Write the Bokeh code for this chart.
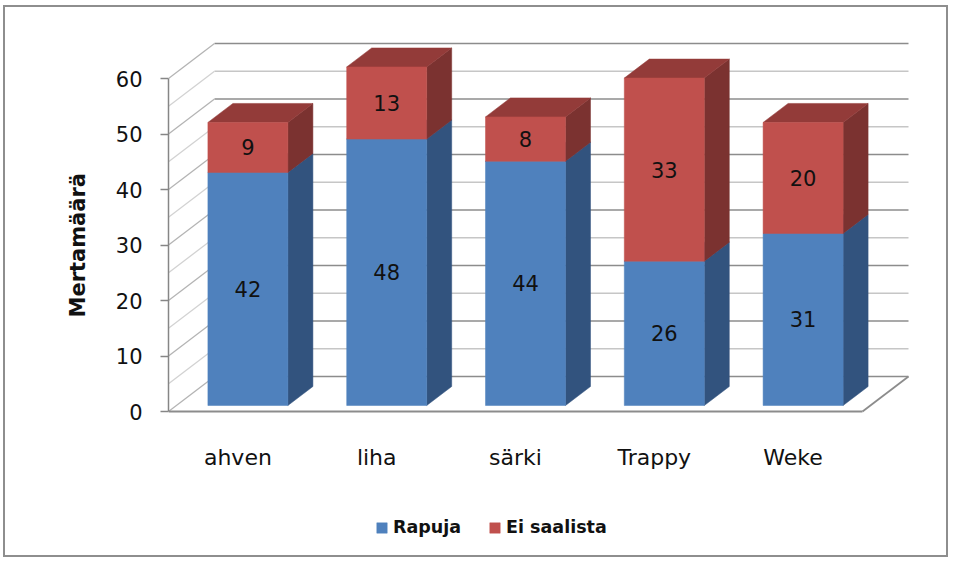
from bokeh.plotting import figure
from bokeh.models import FixedTicker, Range1d, Legend, LegendItem, Title
from bokeh.core.properties import value
from bokeh.embed import file_html
from bokeh.resources import INLINE

# ---------------- data ----------------
categories = ["ahven", "liha", "särki", "Trappy", "Weke"]
rapuja = [42, 48, 44, 26, 31]
ei_saalista = [9, 13, 8, 33, 20]
series_names = ["Rapuja", "Ei saalista"]
y_ticks = [0, 10, 20, 30, 40, 50, 60]
grid_levels = [0, 5, 10, 15, 20, 25, 30, 35, 40, 45, 50, 55, 60]
y_title = "Mertamäärä"

# ---------------- geometry / style ----------------
PX_X = 138.8          # pixels per category
PX_Y = 5.55           # pixels per value unit
WALL_DX = 46 / PX_X   # depth of the back wall
WALL_DY = 35 / PX_Y
BAR_OFF_X = 10 / PX_X # bar front face offset into the depth
BAR_OFF_Y = 6 / PX_Y
BAR_W = 80 / PX_X
BAR_DX = 25 / PX_X    # bar depth
BAR_DY = 19 / PX_Y

FRONT = ["#4F81BD", "#C0504D"]
SIDE = ["#32537E", "#7B3230"]
TOP = ["#3F679A", "#933B39"]
FONT = "DejaVu Sans"

W, H = 945, 552
ML, MR, MT, MB = 163, 25, 11, 14
frame_w = W - ML - MR
frame_h = H - MT - MB
n = len(categories)
x_end = frame_w / PX_X
y_start = -134 / PX_Y
y_end = y_start + frame_h / PX_Y

p = figure(width=W, height=H, x_range=Range1d(0, x_end), y_range=Range1d(y_start, y_end),
           output_backend="svg", toolbar_location=None, x_axis_location=None,
           min_border_left=ML, min_border_right=MR, min_border_top=MT, min_border_bottom=MB)
p.styles = {"border": "2px solid #8e8e8e", "margin-left": "3px", "margin-top": "5px"}
p.grid.visible = False
p.outline_line_color = None
p.background_fill_color = "white"
p.border_fill_color = "white"

ax = p.yaxis[0]
ax.ticker = FixedTicker(ticks=y_ticks)
ax.bounds = (0, 60)
ax.axis_line_color = "#868686"
ax.axis_line_width = 1.5
ax.major_tick_line_color = "#868686"
ax.major_tick_line_width = 1.5
ax.major_tick_out = 8
ax.major_tick_in = 0
ax.minor_tick_line_color = None
ax.major_label_standoff = 18
ax.major_label_text_font = FONT
ax.major_label_text_font_size = "21px"
ax.major_label_text_color = "#111111"

# axis title, centred on the 0..60 span of the axis
title = Title(text=y_title, align="left", offset=228, standoff=46,
              text_font=FONT, text_font_style="bold", text_font_size="21px",
              text_color="#111111")
p.add_layout(title, "left")

# ---------------- walls & floor ----------------
major = [v for v in grid_levels if v % 10 == 0]
minor = [v for v in grid_levels if v % 10 != 0]
for levels, col, dcol in ((minor, "#c6c6c6", "#d2d2d2"), (major, "#8c8c8c", "#b4b4b4")):
    # back wall
    p.segment(x0=[WALL_DX] * len(levels), y0=[v + WALL_DY for v in levels],
              x1=[n + WALL_DX] * len(levels), y1=[v + WALL_DY for v in levels],
              line_color=col, line_width=1.5)
    # side wall diagonals
    p.segment(x0=[0] * len(levels), y0=levels,
              x1=[WALL_DX] * len(levels), y1=[v + WALL_DY for v in levels],
              line_color=dcol, line_width=1.3)
# floor front and right edges
p.segment(x0=[0, n], y0=[0, 0], x1=[n, n + WALL_DX], y1=[0, WALL_DY],
          line_color="#8c8c8c", line_width=1.8)

# ---------------- bars ----------------
bottoms = [0] * n
fronts = []
label_x, label_y, label_t = [], [], []
for s, vals in enumerate([rapuja, ei_saalista]):
    fx, fy, sx, sy, tx, ty = [], [], [], [], [], []
    for i, v in enumerate(vals):
        xl = i + 0.5 - BAR_W / 2 + BAR_OFF_X
        xr = xl + BAR_W
        y0 = BAR_OFF_Y + bottoms[i]
        y1 = y0 + v
        fx.append([xl, xr, xr, xl]); fy.append([y0, y0, y1, y1])
        sx.append([xr, xr + BAR_DX, xr + BAR_DX, xr]); sy.append([y0, y0 + BAR_DY, y1 + BAR_DY, y1])
        tx.append([xl, xr, xr + BAR_DX, xl + BAR_DX]); ty.append([y1, y1, y1 + BAR_DY, y1 + BAR_DY])
        label_x.append(i + 0.5 + BAR_OFF_X); label_y.append(y0 + v / 2); label_t.append(str(v))
        bottoms[i] += v
    p.patches(xs=sx, ys=sy, fill_color=SIDE[s], line_color=SIDE[s], line_width=0.5)
    p.patches(xs=tx, ys=ty, fill_color=TOP[s], line_color=TOP[s], line_width=0.5)
    r = p.patches(xs=fx, ys=fy, fill_color=FRONT[s], line_color=FRONT[s], line_width=0.5)
    fronts.append(r)

p.text(x=label_x, y=label_y, text=label_t, text_align="center", text_baseline="middle",
       text_font=value(FONT), text_font_size="21px", text_color="#111111")

# category labels
p.text(x=[i + 0.5 for i in range(n)], y=[-46 / PX_Y] * n, text=categories,
       text_align="center", text_baseline="middle",
       text_font=value(FONT), text_font_size="22px", text_color="#111111")

# ---------------- legend ----------------
legend = Legend(items=[LegendItem(label=series_names[k], renderers=[fronts[k]]) for k in range(2)],
                orientation="horizontal", location=(207, 8),
                border_line_color=None, background_fill_alpha=0, padding=0, margin=0,
                spacing=27, glyph_width=13, glyph_height=13, label_standoff=5,
                label_text_font=FONT, label_text_font_style="bold", label_text_font_size="17.5px",
                label_text_color="#111111")
p.add_layout(legend)

open("out.html", "w").write(file_html(p, INLINE))
